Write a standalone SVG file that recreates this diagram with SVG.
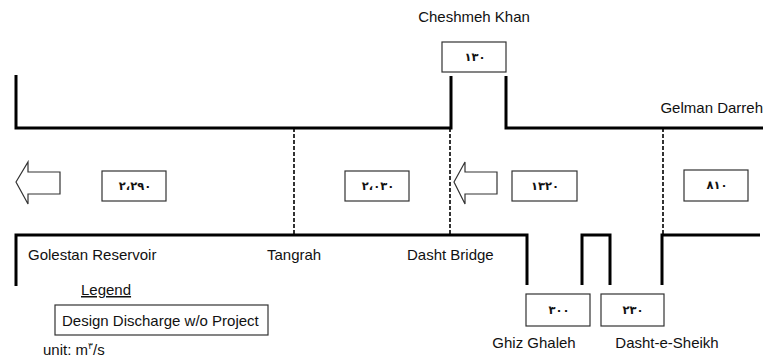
<svg xmlns="http://www.w3.org/2000/svg" width="776" height="358" viewBox="0 0 776 358">
<style>
.bank{fill:none;stroke:#000;stroke-width:3;stroke-linecap:butt;stroke-linejoin:miter}
.sec{fill:none;stroke:#000;stroke-width:1.6;stroke-dasharray:4,2}
.box{fill:#fff;stroke:#333;stroke-width:1.2}
.arrow{fill:#fff;stroke:#333;stroke-width:1.2}
.lbl{font-family:"Liberation Sans",Arial,sans-serif;font-size:15px;fill:#111}
.num{font-family:"DejaVu Sans","Noto Sans",sans-serif;font-size:11.5px;font-weight:bold;fill:#111;text-anchor:middle;letter-spacing:2px}
</style>
<rect width="776" height="358" fill="#fff"/>
<g id="connectors">
<path class="bank" d="M16,75 V128 H451 V76"/>
<path class="bank" d="M506,76 V128 H763"/>
<path class="bank" d="M16,286 V235 H527 V285"/>
<path class="bank" d="M582,285 V235 H610 V285"/>
<path class="bank" d="M662,285 V235 H760"/>
<line class="sec" x1="294" y1="128" x2="294" y2="235"/>
<line class="sec" x1="450" y1="128" x2="450" y2="235"/>
<line class="sec" x1="663" y1="128" x2="663" y2="235"/>
<path id="arrow1" class="arrow" d="M16,182 L28,162 V172 H60 V194 H28 V204 Z"/>
<path id="arrow2" class="arrow" d="M454,182 L465,162 V172 H497 V194 H465 V204 Z"/>
</g>
<g id="cheshmeh-khan">
<text class="lbl" x="474" y="22" text-anchor="middle" font-size="14.5">Cheshmeh Khan</text>
<rect class="box" x="442" y="42" width="64" height="30"/>
<text class="num" x="475" y="61">١٣٠</text>
</g>
<g id="gelman-darreh">
<text class="lbl" x="763" y="113" text-anchor="end" font-size="13.5">Gelman Darreh</text>
</g>
<g id="q-golestan">
<rect class="box" x="102" y="171" width="64" height="30"/>
<text class="num" x="135" y="190">٢،٢٩٠</text>
</g>
<g id="q-tangrah">
<rect class="box" x="345" y="171" width="64" height="30"/>
<text class="num" x="378" y="190">٢،٠٣٠</text>
</g>
<g id="q-dasht">
<rect class="box" x="512" y="171" width="65" height="30"/>
<text class="num" x="545" y="190">١٣٢٠</text>
</g>
<g id="q-gelman">
<rect class="box" x="684" y="170" width="64" height="31"/>
<text class="num" x="717" y="189">٨١٠</text>
</g>
<g id="golestan-reservoir">
<text class="lbl" x="28" y="260">Golestan Reservoir</text>
</g>
<g id="tangrah">
<text class="lbl" x="267" y="260">Tangrah</text>
</g>
<g id="dasht-bridge">
<text class="lbl" x="407" y="260" font-size="14.5">Dasht Bridge</text>
</g>
<g id="ghiz-ghaleh">
<rect class="box" x="526" y="294" width="64" height="32"/>
<text class="num" x="559" y="314">٣٠٠</text>
<text class="lbl" x="534" y="348" text-anchor="middle">Ghiz Ghaleh</text>
</g>
<g id="dasht-e-sheikh">
<rect class="box" x="601" y="294" width="63" height="32"/>
<text class="num" x="633" y="314">٢٣٠</text>
<text class="lbl" x="667" y="348" text-anchor="middle">Dasht-e-Sheikh</text>
</g>
<g id="legend">
<text class="lbl" x="81" y="295" text-decoration="underline">Legend</text>
<rect class="box" x="55" y="305" width="213" height="30"/>
<text class="lbl" x="62" y="326">Design Discharge w/o Project</text>
<text class="lbl" x="43" y="355">unit: m<tspan font-size="9" dy="-6">٣</tspan><tspan dy="6">/s</tspan></text>
</g>
</svg>
